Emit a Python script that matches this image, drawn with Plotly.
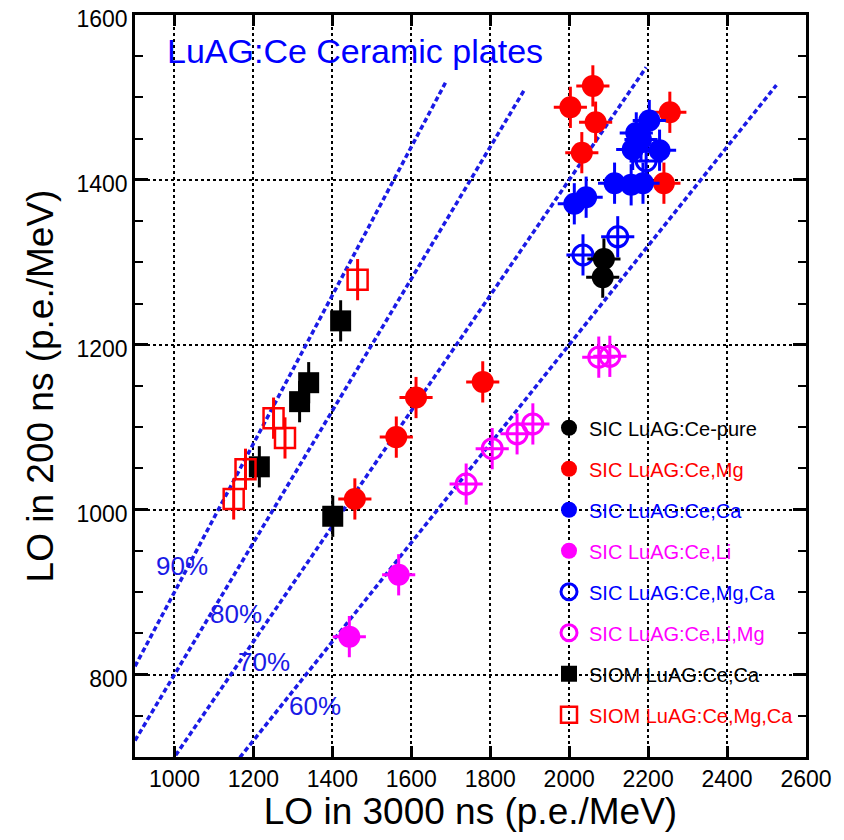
import plotly.graph_objects as go

# ---- data ----
pure_x = [2088, 2085]
pure_y = [1304, 1282]
mg_x = [2060, 2003, 2067, 2032, 2255, 2240, 1781, 1612, 1562, 1457]
mg_y = [1514, 1488, 1470, 1433, 1482, 1396, 1155, 1136, 1088, 1013]
ca_x = [2013, 2043, 2115, 2157, 2187, 2203, 2170, 2182, 2161, 2229]
ca_y = [1371, 1379, 1396, 1394, 1396, 1472, 1457, 1449, 1437, 1436]
li_x = [1568, 1443]
li_y = [921, 846]
mgca_x = [2035, 2123, 2195]
mgca_y = [1309, 1331, 1423]
limg_x = [1739, 1805, 1868, 1908, 2075, 2103]
limg_y = [1031, 1074, 1092, 1104, 1185, 1186]
siom_ca_x = [1421, 1340, 1317, 1215, 1401]
siom_ca_y = [1229, 1154, 1131, 1052, 992]
siom_mgca_x = [1464, 1251, 1280, 1180, 1150]
siom_mgca_y = [1279, 1111, 1087, 1049, 1013]

err_x = 42
err_y = 25

ratios = [0.9, 0.8, 0.7, 0.6]
ratio_labels = ["90%", "80%", "70%", "60%"]
ratio_x_start = [900, 900, 900, 900]
ratio_x_end = [1690, 1885, 2195, 2525]
label_x = [1020, 1155, 1226, 1357]
label_y = [932, 874, 815, 762]

RED = "#ff0000"
BLUE = "#0000ff"
MAG = "#ff00ff"
BLK = "#000000"
LINEBLUE = "#1a1ae6"
FONT = "Liberation Sans, Arial"

fig = go.Figure()

# ratio lines
for r, x0, x1 in zip(ratios, ratio_x_start, ratio_x_end):
    fig.add_trace(go.Scatter(x=[x0, x1], y=[r * x0, r * x1], mode="lines",
                             line=dict(color=LINEBLUE, width=3.5, dash="5px,3px"),
                             showlegend=False, hoverinfo="skip"))

def add_series(x, y, name, color, symbol, rank, open_=False, xerr=True, size=22, lw=3):
    marker = dict(color=color, size=size, symbol=symbol)
    if open_:
        marker["line"] = dict(color=color, width=lw)
    else:
        marker["line"] = dict(width=0)
    fig.add_trace(go.Scatter(
        x=x, y=y, mode="markers",
        name=f"<span style='color:{color}'>{name}</span>",
        marker=marker,
        error_x=dict(type="constant", value=err_x if xerr else 0, color=color,
                     thickness=3, width=0, visible=xerr),
        error_y=dict(type="constant", value=err_y, color=color, thickness=3, width=0),
        legendgroup=name, legendrank=rank,
    ))

add_series(mg_x, mg_y, "SIC LuAG:Ce,Mg", RED, "circle", 2)
add_series(mgca_x, mgca_y, "SIC LuAG:Ce,Mg,Ca", BLUE, "circle-open", 5, open_=True, size=20)
add_series(ca_x, ca_y, "SIC LuAG:Ce;Ca", BLUE, "circle", 3)
add_series(pure_x, pure_y, "SIC LuAG:Ce-pure", BLK, "circle", 1)
add_series(li_x, li_y, "SIC LuAG:Ce,Li", MAG, "circle", 4)
add_series(limg_x, limg_y, "SIC LuAG:Ce,Li,Mg", MAG, "circle-open", 6, open_=True, size=20)
add_series(siom_ca_x, siom_ca_y, "SIOM LuAG:Ce;Ca", BLK, "square", 7, xerr=False, size=21)
add_series(siom_mgca_x, siom_mgca_y, "SIOM LuAG:Ce,Mg,Ca", RED, "square-open", 8,
           open_=True, xerr=False, size=20, lw=2.5)

for t, lx, ly in zip(ratio_labels, label_x, label_y):
    fig.add_annotation(x=lx, y=ly, text=t, showarrow=False,
                       font=dict(color=LINEBLUE, size=26, family=FONT))

fig.add_annotation(x=0.044, y=0.952, xref="paper", yref="paper", xanchor="left",
                   yanchor="middle", text="LuAG:Ce Ceramic plates", showarrow=False,
                   font=dict(color=BLUE, size=34, family=FONT))

axis_common = dict(
    showline=True, linecolor="black", linewidth=2.5, mirror="allticks",
    ticks="inside", tickcolor="black", tickwidth=2.5,
    showgrid=True, gridcolor="black", griddash="dot", gridwidth=1.5,
    zeroline=False, automargin=False, ticklabeloverflow="allow",
    tickfont=dict(size=23, color="black", family=FONT),
)

fig.update_xaxes(range=[900, 2600], dtick=200, tick0=0, ticklen=11,
                 title=dict(text="LO in 3000 ns (p.e./MeV)", standoff=12,
                            font=dict(size=37, color="black", family=FONT)),
                 **axis_common)
fig.update_yaxes(range=[700, 1600], dtick=200, tick0=0, ticklen=13, ticklabelshift=4,
                 minor=dict(dtick=50, ticks="inside", ticklen=8, tickcolor="black",
                            tickwidth=2, showgrid=False),
                 title=dict(text="LO in 200 ns (p.e./MeV)", standoff=12,
                            font=dict(size=37, color="black", family=FONT)),
                 **axis_common)

# page body has an 8px margin; size the figure so the plot area lands where the reference has it
fig.update_layout(
    width=828, height=824,
    margin=dict(l=127, r=30, t=7, b=75),
    plot_bgcolor="white", paper_bgcolor="white",
    font=dict(family=FONT),
    legend=dict(x=0.617, y=0.47, xanchor="left", yanchor="top",
                bgcolor="rgba(0,0,0,0)", traceorder="grouped", tracegroupgap=12,
                font=dict(size=20), itemsizing="trace"),
)

fig.write_html("out.html")
